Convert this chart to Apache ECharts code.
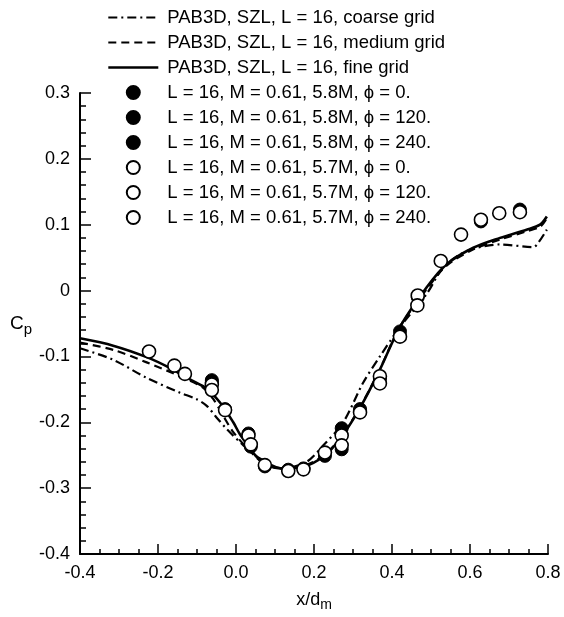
<!DOCTYPE html>
<html><head><meta charset="utf-8">
<script src="https://cdn.jsdelivr.net/npm/echarts@6/dist/echarts.min.js"></script>
<style>html,body{margin:0;padding:0;background:#fff}#c{width:564px;height:617px}</style>
</head><body><div id="c"></div>
<script>
// ---- data ----
const xTickLabels = ['-0.4','-0.2','0.0','0.2','0.4','0.6','0.8'];
const yTickLabels = ['-0.4','-0.3','-0.2','-0.1','0','0.1','0.2','0.3'];

const coarseX = [-0.4,-0.315,-0.229,-0.144,-0.101,-0.075,-0.05,-0.024,0.019,0.0615,0.12,0.181,0.224,0.275,0.326,0.369,0.421,0.489,0.5315,0.5915,0.677,0.7625,0.775,0.797];
const coarseY = [-0.0876,-0.105,-0.1326,-0.155,-0.165,-0.175,-0.1926,-0.21,-0.235,-0.255,-0.27,-0.26,-0.235,-0.2,-0.14,-0.1,-0.055,-0.005,0.035,0.06,0.07,0.066,0.0725,0.0925];

const mediumX = [-0.4,-0.315,-0.229,-0.144,-0.084,-0.058,-0.033,-0.007,0.03,0.07,0.12,0.175,0.225,0.27,0.32,0.37,0.42,0.49,0.54,0.61,0.68,0.745,0.78,0.797];
const mediumY = [-0.079,-0.09,-0.109,-0.130,-0.1476,-0.165,-0.19,-0.215,-0.24,-0.262,-0.271,-0.266,-0.25,-0.222,-0.175,-0.118,-0.055,0.003,0.038,0.063,0.078,0.09,0.097,0.11];

const fineX = [-0.4,-0.315,-0.229,-0.169,-0.118,-0.075,-0.041,-0.007,0.010,0.0615,0.113,0.1726,0.224,0.267,0.318,0.369,0.4205,0.489,0.540,0.6085,0.677,0.745,0.7795,0.797];
const fineY = [-0.0725,-0.0836,-0.101,-0.1176,-0.135,-0.149,-0.170,-0.200,-0.218,-0.2576,-0.270,-0.2676,-0.252,-0.225,-0.178,-0.12,-0.055,0.005,0.04,0.065,0.08,0.0925,0.10,0.1125];

const f0X = [-0.062,0.032,0.228,0.271,0.4205,0.728];
const f0Y = [-0.136,-0.217,-0.251,-0.241,-0.062,0.123];
const f120X = [-0.062,0.038,0.271,0.318,0.369];
const f120Y = [-0.139,-0.237,-0.209,-0.18,-0.134];
const f240X = [-0.028,0.074,0.134,0.173,0.466,0.628];
const f240Y = [-0.18,-0.267,-0.272,-0.27,-0.01,0.105];

const o0X = [-0.223,-0.131,-0.062,-0.028,0.032,0.074,0.173,0.271,0.369,0.466,0.577,0.675];
const o0Y = [-0.0925,-0.1265,-0.1425,-0.1815,-0.22,-0.265,-0.2715,-0.22,-0.13,-0.0075,0.085,0.1175];
const o120X = [-0.158,-0.062,0.038,0.134,0.228,0.318,0.4205,0.525,0.628,0.728];
const o120Y = [-0.114,-0.151,-0.2335,-0.274,-0.246,-0.185,-0.07,0.045,0.1075,0.119];
const o240X = [0.271,0.369,0.465];
const o240Y = [-0.235,-0.141,-0.0225];

const names = [
  'PAB3D, SZL, L = 16, coarse grid',
  'PAB3D, SZL, L = 16, medium grid',
  'PAB3D, SZL, L = 16, fine grid',
  'L = 16, M = 0.61, 5.8M, \u03D5 = 0.',
  'L = 16, M = 0.61, 5.8M, \u03D5 = 120.',
  'L = 16, M = 0.61, 5.8M, \u03D5 = 240.',
  'L = 16, M = 0.61, 5.7M, \u03D5 = 0.',
  'L = 16, M = 0.61, 5.7M, \u03D5 = 120.',
  'L = 16, M = 0.61, 5.7M, \u03D5 = 240.'
];

const zip = (xs, ys) => xs.map((x, i) => [x, ys[i]]);
const FONT = 'Liberation Sans, Arial, sans-serif';
const lineTypes = [[9, 4, 2, 4], [8, 5], 'solid'];
const lineWidths = [2.2, 2.2, 2.6];

function lineSeries(i, xs, ys) {
  return {
    name: names[i], type: 'line', data: zip(xs, ys), smooth: 0.3,
    symbol: 'none', showSymbol: false,
    lineStyle: { color: '#000', width: lineWidths[i], type: lineTypes[i] },
    itemStyle: { color: '#000' }, z: 2, silent: true
  };
}
function scatterSeries(i, xs, ys, filled) {
  return {
    name: names[i], type: 'scatter', data: zip(xs, ys), symbol: 'circle', symbolSize: 13,
    itemStyle: filled ? { color: '#000', borderColor: '#000', borderWidth: 1, opacity: 1 }
                      : { color: '#fff', borderColor: '#000', borderWidth: 1.6, opacity: 1 },
    z: filled ? 3 : 4, silent: true
  };
}

const legendData = names.map((n, i) => i < 3
  ? { name: n, itemStyle: { opacity: 0 }, lineStyle: { width: lineWidths[i], type: lineTypes[i], color: '#000' } }
  : { name: n });

const chart = echarts.init(document.getElementById('c'), null, { renderer: 'canvas' });
chart.setOption({
  animation: false,
  backgroundColor: '#fff',
  textStyle: { fontFamily: FONT, color: '#000' },
  grid: { left: 80, right: 16, top: 93, bottom: 57 },
  legend: {
    orient: 'vertical', left: 102, top: 3,
    itemWidth: 50, itemHeight: 13, itemGap: 6,
    textStyle: { fontFamily: FONT, fontSize: 18.5, color: '#000', padding: [0, 0, 0, 4] },
    data: legendData, selectedMode: false
  },
  xAxis: {
    type: 'value', min: -0.4, max: 0.8, interval: 0.2,
    name: '{a|x/d}{b|m}', nameLocation: 'middle', nameGap: 34,
    nameTextStyle: { rich: { a: { fontSize: 18, fontFamily: FONT, color: '#000' }, b: { fontSize: 14, fontFamily: FONT, color: '#000', padding: [10, 0, 0, 0] } } },
    axisLine: { show: true, onZero: false, lineStyle: { color: '#000', width: 2 } },
    axisTick: { show: true, inside: true, length: 10, lineStyle: { color: '#000', width: 1.5 } },
    minorTick: { show: true, splitNumber: 4, length: 5, lineStyle: { color: '#000', width: 1.5 } },
    splitLine: { show: false },
    axisLabel: { fontSize: 18, fontFamily: FONT, color: '#000', margin: 10,
      formatter: (v, i) => xTickLabels[i] }
  },
  yAxis: {
    type: 'value', min: -0.4, max: 0.3, interval: 0.1,
    name: '{a|C}{b|p}', nameLocation: 'middle', nameGap: 48, nameRotate: 0,
    nameTextStyle: { rich: { a: { fontSize: 19, fontFamily: FONT, color: '#000' }, b: { fontSize: 15, fontFamily: FONT, color: '#000', padding: [12, 0, 0, 0] } } },
    axisLine: { show: true, onZero: false, lineStyle: { color: '#000', width: 2 } },
    axisTick: { show: true, inside: true, length: 11, lineStyle: { color: '#000', width: 1.5 } },
    minorTick: { show: true, splitNumber: 5, length: 6, lineStyle: { color: '#000', width: 1.5 } },
    splitLine: { show: false },
    axisLabel: { fontSize: 18, fontFamily: FONT, color: '#000', margin: 10,
      formatter: (v, i) => yTickLabels[i] }
  },
  series: [
    lineSeries(0, coarseX, coarseY),
    lineSeries(1, mediumX, mediumY),
    lineSeries(2, fineX, fineY),
    scatterSeries(3, f0X, f0Y, true),
    scatterSeries(4, f120X, f120Y, true),
    scatterSeries(5, f240X, f240Y, true),
    scatterSeries(6, o0X, o0Y, false),
    scatterSeries(7, o120X, o120Y, false),
    scatterSeries(8, o240X, o240Y, false)
  ]
});
</script></body></html>
